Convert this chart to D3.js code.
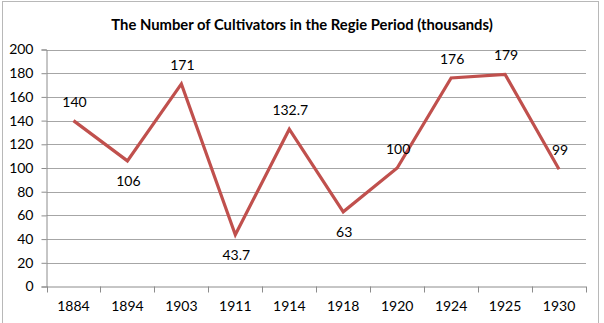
<!DOCTYPE html>
<html>
<head>
<meta charset="utf-8">
<script src="https://cdn.jsdelivr.net/npm/d3@7"></script>
<style>
  body { margin: 0; background: #fff; }
  svg { display: block; font-family: Lato, "Open Sans", sans-serif; }
</style>
</head>
<body>
<svg width="604" height="323"></svg>
<script>
var years = ["1884", "1894", "1903", "1911", "1914", "1918", "1920", "1924", "1925", "1930"];
var cultivators = [140, 106, 171, 43.7, 132.7, 63, 100, 176, 179, 99];
var yTicks = [0, 20, 40, 60, 80, 100, 120, 140, 160, 180, 200];
var title = "The Number of Cultivators in the Regie Period (thousands)";

var svg = d3.select("svg"),
    width = +svg.attr("width"),
    height = +svg.attr("height");

var plotLeft = 46.5, plotRight = 586, plotTop = 49.5, plotBottom = 286.5;
var fs = 14;

// chart border
svg.append("rect")
  .attr("x", 2.5).attr("y", 1.5)
  .attr("width", 596).attr("height", 340)
  .attr("fill", "none")
  .attr("stroke", "#b8b8b8");

svg.append("text")
  .attr("x", 302).attr("y", 30)
  .attr("text-anchor", "middle")
  .attr("font-size", 14.8)
  .attr("font-weight", "bold")
  .attr("fill", "#000")
  .text(title);

var x = d3.scaleBand().domain(years).range([plotLeft, plotRight]);
var y = d3.scaleLinear().domain([0, 200]).range([plotBottom, plotTop]);

// gridlines
svg.append("g")
  .selectAll("line")
  .data(yTicks.slice(1)).enter()
  .append("line")
  .attr("x1", plotLeft).attr("x2", plotRight)
  .attr("y1", function(d) { return Math.round(y(d)) + 0.5; })
  .attr("y2", function(d) { return Math.round(y(d)) + 0.5; })
  .attr("stroke", "#a6a6a6");

// y axis
var yAxis = svg.append("g")
  .attr("transform", "translate(" + plotLeft + ",0)")
  .call(d3.axisLeft(y).tickValues(yTicks).tickSize(5).tickPadding(8));
yAxis.select(".domain").attr("stroke", "#8c8c8c");
yAxis.selectAll(".tick line").attr("stroke", "#8c8c8c");
yAxis.selectAll("text").attr("font-size", fs).attr("fill", "#000").attr("font-family", "Lato");

// x axis, ticks at category boundaries
var xg = svg.append("g").attr("transform", "translate(0," + plotBottom + ")");
xg.append("line")
  .attr("x1", plotLeft).attr("x2", plotRight)
  .attr("y1", 0.5).attr("y2", 0.5)
  .attr("stroke", "#8c8c8c");
xg.selectAll(".xtick")
  .data(years.concat(["end"])).enter()
  .append("line")
  .attr("class", "xtick")
  .attr("x1", function(d, i) { return Math.round(plotLeft + i * x.step()) + 0.5; })
  .attr("x2", function(d, i) { return Math.round(plotLeft + i * x.step()) + 0.5; })
  .attr("y1", 0).attr("y2", 6)
  .attr("stroke", "#8c8c8c");
xg.selectAll(".xlabel")
  .data(years).enter()
  .append("text")
  .attr("x", function(d) { return x(d) + x.bandwidth() / 2; })
  .attr("y", 24)
  .attr("text-anchor", "middle")
  .attr("font-size", fs)
  .text(function(d) { return d; });

var pts = years.map(function(d, i) { return { year: d, value: cultivators[i], i: i }; });

var line = d3.line()
  .x(function(d) { return x(d.year) + x.bandwidth() / 2; })
  .y(function(d) { return y(d.value); });

svg.append("path")
  .datum(pts)
  .attr("d", line)
  .attr("fill", "none")
  .attr("stroke", "#c0504d")
  .attr("stroke-width", 3.2)
  .attr("stroke-linejoin", "miter");

// labels: below local minima, above otherwise
function isLow(d) {
  var prev = cultivators[d.i - 1], next = cultivators[d.i + 1];
  return prev !== undefined && next !== undefined && d.value < prev && d.value < next;
}

svg.selectAll(".lbl")
  .data(pts).enter()
  .append("text")
  .attr("class", "lbl")
  .attr("x", function(d) { return x(d.year) + x.bandwidth() / 2 + 1; })
  .attr("y", function(d) { return y(d.value) + (isLow(d) ? 25 : -14); })
  .attr("text-anchor", "middle")
  .attr("font-size", fs)
  .attr("fill", "#000")
  .text(function(d) { return d.value; });
</script>
</body>
</html>
